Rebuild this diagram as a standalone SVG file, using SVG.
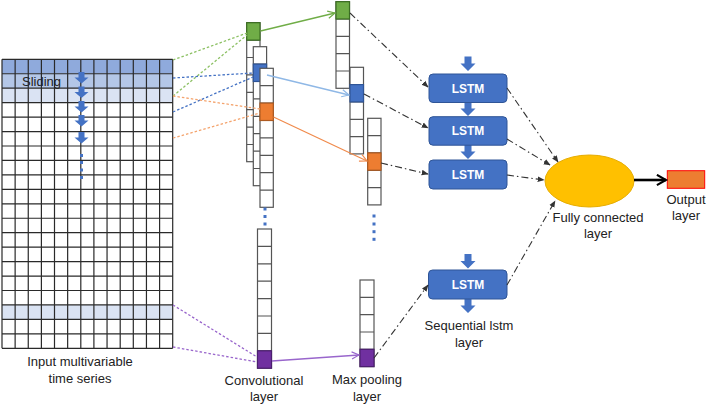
<svg xmlns="http://www.w3.org/2000/svg" width="708" height="406" viewBox="0 0 708 406">
<style>
text{font-family:"Liberation Sans",Arial,sans-serif;font-size:13px;fill:#222;text-anchor:middle}
.lstm text{fill:#fff;font-weight:bold;font-size:12px}
.cell{fill:#fff;stroke:#555;stroke-width:1.2}
.gl{stroke:#2a2a2a;stroke-width:1.2}
.dd{fill:none;stroke:#333;stroke-width:1.1;stroke-dasharray:7,3,1.5,3;marker-end:url(#mk)}
.dot{fill:none;stroke-width:1.3;stroke-dasharray:2.5,2}
.box{fill:#4472C4;stroke:#2F5597;stroke-width:1}
.barrow{fill:#4472C4}
.bdot{fill:#4472C4}
</style>
<defs>
<marker id="mk" viewBox="0 0 10 10" refX="9" refY="5" markerWidth="7" markerHeight="7" orient="auto" markerUnits="userSpaceOnUse"><path d="M0,1 L10,5 L0,9 z" fill="#333"/></marker>
<marker id="mg" viewBox="0 0 10 10" refX="9" refY="5" markerWidth="9" markerHeight="9" orient="auto" markerUnits="userSpaceOnUse"><path d="M1,1 L9,5 L1,9" fill="none" stroke="#70AD47" stroke-width="1.3"/></marker>
<marker id="mb" viewBox="0 0 10 10" refX="9" refY="5" markerWidth="9" markerHeight="9" orient="auto" markerUnits="userSpaceOnUse"><path d="M1,1 L9,5 L1,9" fill="none" stroke="#8FB8E6" stroke-width="1.3"/></marker>
<marker id="mo" viewBox="0 0 10 10" refX="9" refY="5" markerWidth="9" markerHeight="9" orient="auto" markerUnits="userSpaceOnUse"><path d="M1,1 L9,5 L1,9" fill="none" stroke="#F08A4B" stroke-width="1.3"/></marker>
<marker id="mp" viewBox="0 0 10 10" refX="9" refY="5" markerWidth="9" markerHeight="9" orient="auto" markerUnits="userSpaceOnUse"><path d="M1,1 L9,5 L1,9" fill="none" stroke="#9966CC" stroke-width="1.3"/></marker>
<marker id="mk2" viewBox="0 0 10 10" refX="8" refY="5" markerWidth="5" markerHeight="5" orient="auto"><path d="M1,1 L8,5 L1,9" fill="none" stroke="#000" stroke-width="1.6"/></marker>
<path id="ba" d="M-3,0 h6 v5.5 h4 l-7,6 l-7,-6 h4 z"/>
<path id="bb" d="M-3.5,0 h7 v7 h4 l-7.5,7.5 l-7.5,-7.5 h4 z"/>
</defs>

<g id="input-series">
<rect x="2" y="59.3" width="170.7" height="14.45" fill="#8FAADC"/>
<rect x="2" y="73.75" width="170.7" height="14.45" fill="#B4C7E7"/>
<rect x="2" y="88.2" width="170.7" height="14.45" fill="#DAE3F3"/>
<rect x="2" y="304.95" width="170.7" height="14.45" fill="#DAE3F3"/>
<g class="gl">
<path d="M2,59.3V348.3M15.13,59.3V348.3M28.26,59.3V348.3M41.4,59.3V348.3M54.5,59.3V348.3M67.65,59.3V348.3M80.8,59.3V348.3M93.9,59.3V348.3M107.05,59.3V348.3M120.2,59.3V348.3M133.3,59.3V348.3M146.45,59.3V348.3M159.6,59.3V348.3M172.7,59.3V348.3"/>
<path d="M2,59.3H172.7M2,73.75H172.7M2,88.2H172.7M2,102.65H172.7M2,117.1H172.7M2,131.55H172.7M2,146H172.7M2,160.45H172.7M2,174.9H172.7M2,189.35H172.7M2,203.8H172.7M2,218.25H172.7M2,232.7H172.7M2,247.15H172.7M2,261.6H172.7M2,276.05H172.7M2,290.5H172.7M2,304.95H172.7M2,319.4H172.7M2,333.85H172.7M2,348.3H172.7"/>
</g>
<text x="41.5" y="86">Sliding</text>
<use href="#ba" x="81.5" y="72" class="barrow"/>
<use href="#ba" x="81.5" y="86.5" class="barrow"/>
<use href="#ba" x="81.5" y="101" class="barrow"/>
<use href="#ba" x="81.5" y="115" class="barrow"/>
<use href="#ba" x="81.5" y="132" class="barrow"/>
<rect class="bdot" x="80" y="154" width="3" height="3"/>
<rect class="bdot" x="80" y="161" width="3" height="3"/>
<rect class="bdot" x="80" y="168.5" width="3" height="3"/>
<rect class="bdot" x="80" y="176" width="3" height="3"/>
<text x="80" y="366">Input multivariable</text>
<text x="80" y="383">time series</text>
</g>

<g id="conv-layer">
<rect class="cell" x="246.7" y="22.7" width="13.3" height="139"/>
<path d="M246.7,40.1h13.3M246.7,57.5h13.3M246.7,74.9h13.3M246.7,92.3h13.3M246.7,109.7h13.3M246.7,127.1h13.3M246.7,144.5h13.3" stroke="#555" stroke-width="1.2"/>
<rect x="246.7" y="22.7" width="13.3" height="17.4" fill="#70AD47" stroke="#3B6E22" stroke-width="1.2"/>
<rect class="cell" x="253.3" y="46.7" width="13.3" height="139"/>
<path d="M253.3,64.1h13.3M253.3,81.5h13.3M253.3,98.9h13.3M253.3,116.3h13.3M253.3,133.7h13.3M253.3,151.1h13.3M253.3,168.5h13.3" stroke="#555" stroke-width="1.2"/>
<rect x="253.3" y="64.1" width="13.3" height="17.4" fill="#4472C4" stroke="#2F5597" stroke-width="1.2"/>
<rect class="cell" x="260" y="68.3" width="13.3" height="139"/>
<path d="M260,85.7h13.3M260,103.1h13.3M260,120.5h13.3M260,137.9h13.3M260,155.3h13.3M260,172.7h13.3M260,190.1h13.3" stroke="#555" stroke-width="1.2"/>
<rect x="260" y="103.1" width="13.3" height="17.4" fill="#ED7D31" stroke="#AE5A21" stroke-width="1.2"/>
<rect class="bdot" x="263.5" y="207.5" width="3" height="3"/>
<rect class="bdot" x="263.5" y="215" width="3" height="3"/>
<rect class="bdot" x="263.5" y="222.5" width="3" height="3"/>
<rect class="cell" x="257.5" y="229" width="14" height="139.2"/>
<path d="M257.5,246.4h14M257.5,263.8h14M257.5,281.2h14M257.5,298.6h14M257.5,316h14M257.5,333.4h14M257.5,350.8h14" stroke="#555" stroke-width="1.2"/>
<rect x="257.5" y="350.8" width="14" height="17.4" fill="#7030A0" stroke="#4B1F6F" stroke-width="1.2"/>
<text x="264" y="385">Convolutional</text>
<text x="264" y="401">layer</text>
</g>

<g id="max-pooling">
<rect class="cell" x="336" y="1.7" width="13.5" height="86.6"/>
<path d="M336,19h13.5M336,36.3h13.5M336,53.7h13.5M336,71h13.5" stroke="#555" stroke-width="1.2"/>
<rect x="336" y="1.7" width="13.5" height="17.3" fill="#70AD47" stroke="#3B6E22" stroke-width="1.2"/>
<rect class="cell" x="350" y="67.3" width="13.5" height="86.6"/>
<path d="M350,84.6h13.5M350,101.9h13.5M350,119.3h13.5M350,136.6h13.5" stroke="#555" stroke-width="1.2"/>
<rect x="350" y="84.6" width="13.5" height="17.3" fill="#4472C4" stroke="#2F5597" stroke-width="1.2"/>
<rect class="cell" x="367.7" y="118.3" width="13.3" height="86.6"/>
<path d="M367.7,135.6h13.3M367.7,152.9h13.3M367.7,170.3h13.3M367.7,187.6h13.3" stroke="#555" stroke-width="1.2"/>
<rect x="367.7" y="152.9" width="13.3" height="17.3" fill="#ED7D31" stroke="#AE5A21" stroke-width="1.2"/>
<rect class="bdot" x="372.5" y="214.5" width="3" height="3"/>
<rect class="bdot" x="372.5" y="222.5" width="3" height="3"/>
<rect class="bdot" x="372.5" y="230.2" width="3" height="3"/>
<rect class="bdot" x="372.5" y="237.8" width="3" height="3"/>
<rect class="cell" x="360" y="280" width="14" height="86.6"/>
<path d="M360,297.3h14M360,314.6h14M360,332h14M360,349.3h14" stroke="#555" stroke-width="1.2"/>
<rect x="360" y="349.3" width="14" height="17.3" fill="#7030A0" stroke="#4B1F6F" stroke-width="1.2"/>
<text x="367" y="384">Max pooling</text>
<text x="367" y="401">layer</text>
</g>

<g id="lstm-stack" class="lstm">
<use href="#bb" x="468" y="56.5" class="barrow"/>
<use href="#bb" x="468" y="101.5" class="barrow"/>
<use href="#bb" x="468" y="144.5" class="barrow"/>
<rect class="box" x="429" y="74" width="78" height="28.5" rx="4"/>
<text x="468" y="92.7">LSTM</text>
<rect class="box" x="429" y="116.7" width="78" height="28.5" rx="4"/>
<text x="468" y="135.4">LSTM</text>
<rect class="box" x="429" y="160" width="78" height="29" rx="4"/>
<text x="468" y="178.9">LSTM</text>
</g>

<g id="sequential-lstm" class="lstm">
<use href="#bb" x="468" y="254" class="barrow"/>
<use href="#bb" x="468" y="298.5" class="barrow"/>
<rect class="box" x="428.5" y="270" width="78.5" height="29" rx="4"/>
<text x="468" y="289">LSTM</text>
</g>
<text x="469" y="330">Sequential lstm</text>
<text x="469" y="347">layer</text>

<g id="fully-connected">
<ellipse cx="589.5" cy="181" rx="44.5" ry="26" fill="#FFC000" stroke="#E6AC00" stroke-width="1"/>
<text x="598" y="222">Fully connected</text>
<text x="598" y="238">layer</text>
</g>

<g id="output-layer">
<rect x="667.3" y="170.7" width="37.4" height="17.6" fill="#ED7D31" stroke="#FF0000" stroke-width="1"/>
<text x="686" y="204">Output</text>
<text x="686" y="220">layer</text>
</g>

<g id="connectors">
<path class="dot" stroke="#8CC063" d="M173,60L247,33M173,96L247,35"/>
<path class="dot" stroke="#4472C4" d="M173,78L253,73M173,112L253,77"/>
<path class="dot" stroke="#F4A46E" d="M173,96L260,109M173,138L260,113"/>
<path class="dot" stroke="#9966CC" d="M173,305L257,357M173,347L257,362"/>
<path d="M260.5,31L335,13" stroke="#70AD47" stroke-width="1.3" fill="none" marker-end="url(#mg)"/>
<path d="M267,75L349,95" stroke="#8FB8E6" stroke-width="1.3" fill="none" marker-end="url(#mb)"/>
<path d="M273.5,117L367,161" stroke="#F08A4B" stroke-width="1.3" fill="none" marker-end="url(#mo)"/>
<path d="M272,361L359,355" stroke="#9966CC" stroke-width="1.3" fill="none" marker-end="url(#mp)"/>
<path class="dd" d="M350,13L428,87"/>
<path class="dd" d="M364,94L428,128"/>
<path class="dd" d="M381,163L428,174"/>
<path class="dd" d="M374,358L428,285"/>
<path class="dd" d="M507,88L558,162"/>
<path class="dd" d="M507,139L550,165"/>
<path class="dd" d="M507,175L544,180"/>
<path class="dd" d="M507,285L555,201"/>
<path d="M634,180L666,180" stroke="#000" stroke-width="2.6" fill="none" marker-end="url(#mk2)"/>
</g>
</svg>
